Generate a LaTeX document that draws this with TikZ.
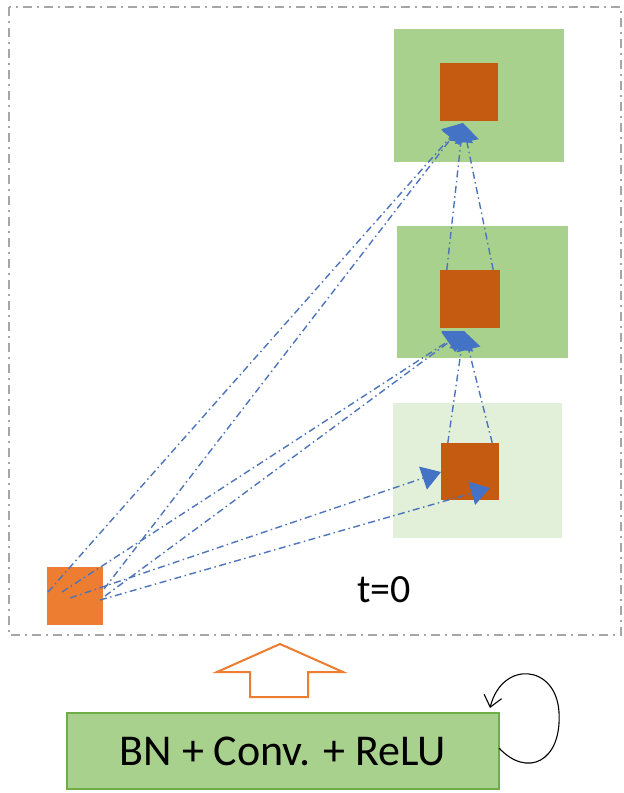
\documentclass[tikz,border=0pt]{standalone}
\usepackage{fontspec}
\setmainfont{Carlito}
\usetikzlibrary{arrows.meta}
\definecolor{gA}{HTML}{A9D18E}
\definecolor{gL}{HTML}{E2F0D9}
\definecolor{gB}{HTML}{70AD47}
\definecolor{oD}{HTML}{C55A11}
\definecolor{oL}{HTML}{ED7D31}
\definecolor{bL}{HTML}{4472C4}
\definecolor{grayD}{HTML}{A6A6A6}
\tikzset{
  blk/.style={fill=#1, draw=none, inner sep=0pt, minimum width=170pt, minimum height=133pt},
  sq/.style={fill=oD, draw=none, inner sep=0pt, minimum width=58pt, minimum height=58pt},
  conn/.style={draw=bL!85!gray, line width=1.4pt, dash pattern=on 7pt off 3.5pt on 1.5pt off 3.5pt,
    -{Triangle[length=19pt,width=24pt,color=bL,fill=bL]}},
  frame/.style={draw=grayD, line width=1.3pt, dash pattern=on 9pt off 5pt on 2pt off 5pt}
}
\begin{document}
\begin{tikzpicture}[x=1pt,y=-1pt]
\useasboundingbox (0,0) rectangle (624,793);
\draw[frame] (9,7) rectangle (621,635);
% blocks
\node[blk=gA] (g3) at (479,95) {};
\node[blk=gA, minimum width=171pt, minimum height=132pt] (g2) at (482.5,292) {};
\node[blk=gL, minimum width=169pt, minimum height=135pt] (g1) at (477.5,470.5) {};
\node[sq] (s3) at (468.5,92) {};
\node[sq, minimum width=60pt] (s2) at (470,299) {};
\node[sq, minimum height=57pt] (s1) at (470,471.5) {};
\node[fill=oL, inner sep=0pt, minimum width=56pt, minimum height=58pt] (x0) at (75,596) {};
% anchor coordinates
\coordinate (a1) at (48,592);
\coordinate (a2) at (104,589);
\coordinate (a3) at (62,592);
\coordinate (a4) at (105,596);
\coordinate (a5) at (70,598);
\coordinate (a6) at (100,600);
\coordinate (t3) at (463,123);
\coordinate (t2) at (464,331);
\coordinate (b1) at (441,472);
\coordinate (b2) at (490,488);
% connectors
\draw[conn] (a1) -- (t3);
\draw[conn] (a2) -- (t3);
\draw[conn] (a3) -- (t2);
\draw[conn] (a4) -- (t2);
\draw[conn] (a5) -- (b1);
\draw[conn] (a6) -- (b2);
\draw[conn] (s2.north west) ++(7,0) -- (t3);
\draw[conn] (s2.north east) ++(-7,0) -- (t3);
\draw[conn] (s1.north west) ++(7,0) -- (t2);
\draw[conn] (s1.north east) ++(-7,0) -- (t2);
% label
\node[font=\fontsize{40}{44}\selectfont, inner sep=0pt] (t0) at (384,590) {t=0};
% bottom
\node[fill=gA, draw=gB, line width=1.2pt, minimum width=432pt, minimum height=76pt, inner sep=0pt,
  font=\fontsize{44}{46}\selectfont] (bn) at (283,751) {BN + Conv. + ReLU};
\draw[oL, line width=2pt, fill=white, line join=miter]
  (280,644) -- (343,672) -- (308,672) -- (308,697) -- (250,697) -- (250,672) -- (217,672) -- cycle;
\coordinate (lp) at (499,748);
\draw[line width=1.1pt, -{Straight Barb[length=11pt,width=18pt]}]
  (lp) .. controls (527,778) and (562,762) .. (559,712) .. controls (556,664) and (502,660) .. (490,708);
\end{tikzpicture}
\end{document}
